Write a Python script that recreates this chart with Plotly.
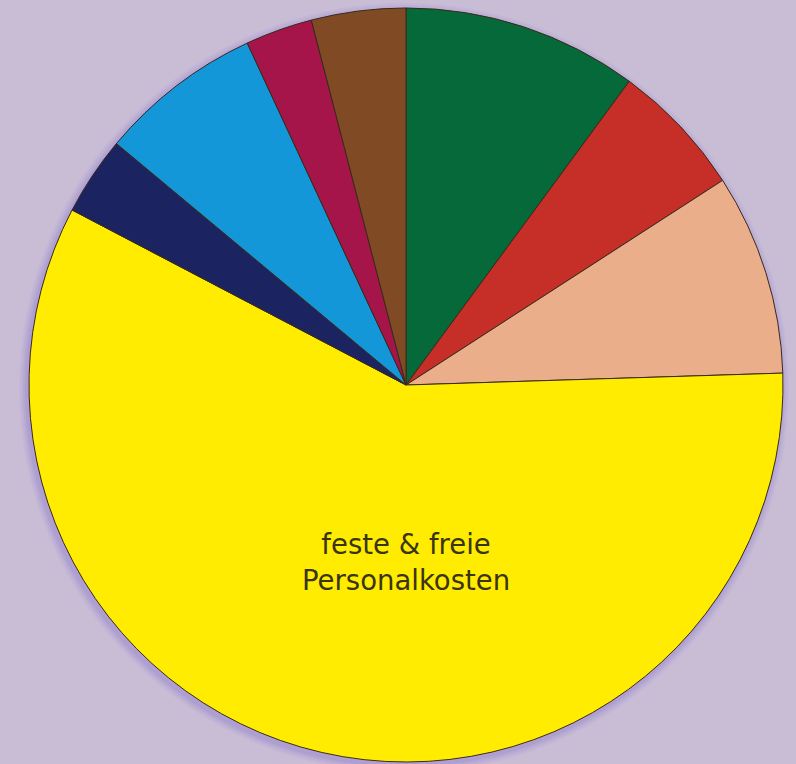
import plotly.graph_objects as go

# Data (share of total), clockwise from 12 o'clock
labels = ["Posten A", "Posten B", "Posten C", "feste & freie Personalkosten",
          "Posten D", "Posten E", "Posten F", "Posten G"]
values = [10.09, 5.78, 8.63, 58.19, 3.38, 7.02, 2.88, 4.04]
colors = ["#05693A", "#C62E28", "#EAAE8B", "#FFEC00",
          "#1B2461", "#1497D8", "#A5154A", "#804A25"]
label_text = "feste & freie<br>Personalkosten"

W, H = 796, 764
cx, cy, r = 406, 385, 377

fig = go.Figure()
fig.add_trace(go.Pie(
    labels=labels, values=values, sort=False, direction="clockwise", rotation=0,
    marker=dict(colors=colors, line=dict(color="#3a2a1a", width=1)),
    textinfo="none", hoverinfo="label+percent", showlegend=False,
    domain=dict(x=[(cx - r) / W, (cx + r) / W], y=[1 - (cy + r) / H, 1 - (cy - r) / H]),
))

# soft shadow rings
shapes = []
for i, (off, op) in enumerate([(8, 0.06), (6, 0.08), (4, 0.10), (2, 0.12)]):
    rr = r + off
    sx, sy = cx - 2, cy + 3
    shapes.append(dict(type="circle", xref="paper", yref="paper", layer="below",
                       x0=(sx - rr) / W, x1=(sx + rr) / W,
                       y0=1 - (sy + rr) / H, y1=1 - (sy - rr) / H,
                       fillcolor=f"rgba(120,100,200,{op})", line=dict(width=0)))

fig.update_layout(
    width=W, height=H, margin=dict(l=0, r=0, t=0, b=0),
    paper_bgcolor="#C9BDD6", plot_bgcolor="#C9BDD6",
    shapes=shapes,
    annotations=[dict(text=label_text, x=cx / W, y=1 - 562 / H, xref="paper", yref="paper",
                      xanchor="center", yanchor="middle",
                      showarrow=False, font=dict(family="DejaVu Sans", size=27.5, color="#3a3410"),
                      align="center")],
)
fig.write_html("out.html")
